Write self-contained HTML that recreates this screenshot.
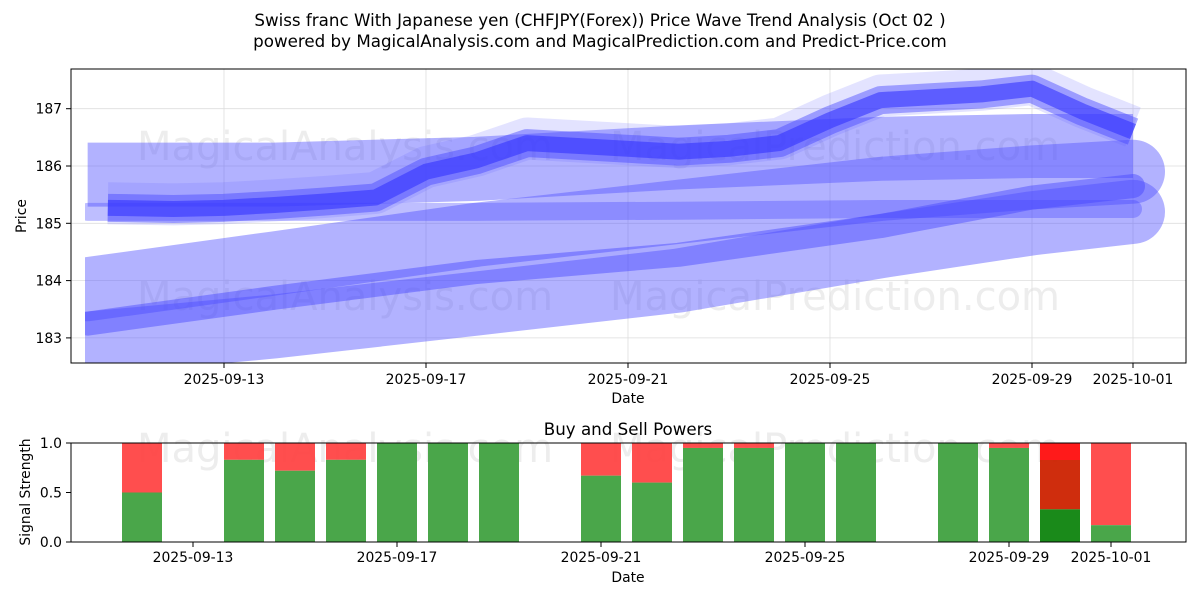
<!DOCTYPE html>
<html><head><meta charset="utf-8"><style>
body{margin:0;background:#fff;font-family:"Liberation Sans","DejaVu Sans",sans-serif}
svg text{font-family:"DejaVu Sans","Liberation Sans",sans-serif;fill:#000}
</style></head><body>
<svg id="c" width="1200" height="600" xmlns="http://www.w3.org/2000/svg">
<defs>
<clipPath id="clipBands"><rect x="85" y="69" width="1101" height="294"/></clipPath>
<clipPath id="clipPlot"><rect x="71" y="69" width="1115" height="294"/></clipPath>
</defs>
<text x="600" y="26" text-anchor="middle" font-size="16.7">Swiss franc With Japanese yen (CHFJPY(Forex)) Price Wave Trend Analysis (Oct 02 )</text>
<text x="600" y="47" text-anchor="middle" font-size="16.7">powered by MagicalAnalysis.com and MagicalPrediction.com and Predict-Price.com</text>
<g id="topg"></g>
<g id="botg"></g>
</svg>
<script>
const priceDays=[10.7,12,13,14,15,16,17,18,19,20,21,22,23,24,25,26,27,28,29,30,31];
const price=[185.27,185.25,185.27,185.32,185.38,185.45,185.9,186.1,186.4,186.35,186.3,186.25,186.3,186.4,186.8,187.15,187.2,187.25,187.35,186.95,186.6];
const bandDays=[10.3,14,18,22,26,29,31];
const bandTop=[185.85,185.85,185.95,186.15,186.3,186.35,186.35];
const bandMid=[183.85,184.3,184.8,185.2,185.6,185.8,185.9];
const bandLow=[182.9,183.2,183.6,184.0,184.6,185.0,185.2];
const bandNarrow=[183.25,183.7,184.15,184.45,184.95,185.45,185.65];
const bandFlat=[185.2,185.2,185.2,185.22,185.25,185.25,185.25];
const sigDays=[12,14,15,16,17,18,19,21,22,23,24,25,26,28,29,30,31];
const buyPow=[0.5,0.83,0.72,0.83,1,1,1,0.67,0.6,0.95,0.95,1,1,1,0.95,0.33,0.17];
const yTicks=[183,184,185,186,187];
const xTickDays=[13,17,21,25,29,31];
const xTickLabels=["2025-09-13","2025-09-17","2025-09-21","2025-09-25","2025-09-29","2025-10-01"];
const sTicks=[0,0.5,1];
const sLabels=["0.0","0.5","1.0"];
const NS="http://www.w3.org/2000/svg";
function mk(p,t,a){const e=document.createElementNS(NS,t);for(const k in a)e.setAttribute(k,a[k]);p.appendChild(e);return e;}
const X=d=>72.5+(d-10)*50.5, Y=v=>166-(v-186)*57.3;
const XB=d=>40+(d-10)*51, YB=v=>542-v*99;
const gTop=document.getElementById('topg'), gBot=document.getElementById('botg');
[[gTop,345,148],[gTop,835,148],[gTop,345,298],[gTop,835,298],[gBot,345,450],[gBot,835,450]].forEach(([g,x,y])=>{const t=mk(g,'text',{x:x,y:y+12,'text-anchor':'middle','font-size':'40',style:'fill:#ccc;opacity:0.35'});t.textContent=(x<600?'MagicalAnalysis.com':'MagicalPrediction.com');

});
yTicks.forEach(v=>{const l=mk(gTop,'line',{x1:71,x2:1186,y1:Y(v),y2:Y(v),stroke:'#ddd','stroke-width':0.8});

});
xTickDays.forEach(d=>{const l=mk(gTop,'line',{x1:X(d),x2:X(d),y1:69,y2:363,stroke:'#ddd','stroke-width':0.8});

});
const bandsG=mk(gTop,'g',{'clip-path':'url(#clipBands)'});
function band(days,vals,w,col,op,name,cap){const pts=days.map((d,i)=>X(d)+','+Y(vals[i])).join(' ');
const p=mk(bandsG,'polyline',{points:pts,fill:'none',stroke:col,'stroke-width':w,'stroke-opacity':op,'stroke-linejoin':'round','stroke-linecap':cap||'round'});

}
band(bandDays,bandTop,64,'#5555ff',0.45,'band-upper','butt');
band(bandDays,bandMid,64,'#5555ff',0.45,'band-middle');
band(bandDays,bandLow,64,'#5555ff',0.45,'band-lower');
band(bandDays,bandNarrow,24,'#4444ff',0.45,'band-narrow');
band(bandDays,bandFlat,18,'#4444ff',0.35,'band-flat');
band(priceDays,price.map(v=>v+0.08),42,'#6666ff',0.18,'price-halo','butt');
band(priceDays,price,28,'#4444ff',0.45,'price-wave-outer','butt');
band(priceDays,price,16,'#3333ff',0.6,'price-wave','butt');
mk(gTop,'rect',{x:71,y:69,width:1115,height:294,fill:'none',stroke:'#000','stroke-width':1});
yTicks.forEach(v=>{mk(gTop,'line',{x1:66,x2:71,y1:Y(v),y2:Y(v),stroke:'#000'});const t=mk(gTop,'text',{x:62,y:Y(v)+5,'text-anchor':'end','font-size':'13.9'});t.textContent=v;

});
xTickDays.forEach((d,i)=>{mk(gTop,'line',{x1:X(d),x2:X(d),y1:363,y2:368,stroke:'#000'});const t=mk(gTop,'text',{x:X(d),y:384,'text-anchor':'middle','font-size':'13.9'});t.textContent=xTickLabels[i];

});
let t=mk(gTop,'text',{x:628,y:403,'text-anchor':'middle','font-size':'13.9'});t.textContent='Date';
t=mk(gTop,'text',{x:26,y:216,'text-anchor':'middle','font-size':'13.9',transform:'rotate(-90 26 216)'});t.textContent='Price';
t=mk(gBot,'text',{x:628,y:435,'text-anchor':'middle','font-size':'16.7'});t.textContent='Buy and Sell Powers';
sigDays.forEach((d,i)=>{const b=buyPow[i],x=XB(d)-20;
const r=mk(gBot,'rect',{x:x,y:YB(1),width:40,height:YB(b)-YB(1),fill:d===30?'#cc2200':'#ff4444',opacity:0.95});


if(d===30){mk(gBot,'rect',{x:x,y:YB(1),width:40,height:17,fill:'#ff1a1a'});}
const g=mk(gBot,'rect',{x:x,y:YB(b),width:40,height:YB(0)-YB(b),fill:d===30?'#1a8a1a':'#4aa64a'});

});
mk(gBot,'rect',{x:71,y:443,width:1115,height:99,fill:'none',stroke:'#000'});
sTicks.forEach((v,i)=>{mk(gBot,'line',{x1:66,x2:71,y1:YB(v),y2:YB(v),stroke:'#000'});const t=mk(gBot,'text',{x:62,y:YB(v)+5,'text-anchor':'end','font-size':'13.9'});t.textContent=sLabels[i];

});
xTickDays.forEach((d,i)=>{mk(gBot,'line',{x1:XB(d),x2:XB(d),y1:542,y2:547,stroke:'#000'});const t=mk(gBot,'text',{x:XB(d),y:562,'text-anchor':'middle','font-size':'13.9'});t.textContent=xTickLabels[i];

});
t=mk(gBot,'text',{x:628,y:582,'text-anchor':'middle','font-size':'13.9'});t.textContent='Date';
t=mk(gBot,'text',{x:30,y:492,'text-anchor':'middle','font-size':'13.9',transform:'rotate(-90 30 492)'});t.textContent='Signal Strength';
</script>
</body></html>
